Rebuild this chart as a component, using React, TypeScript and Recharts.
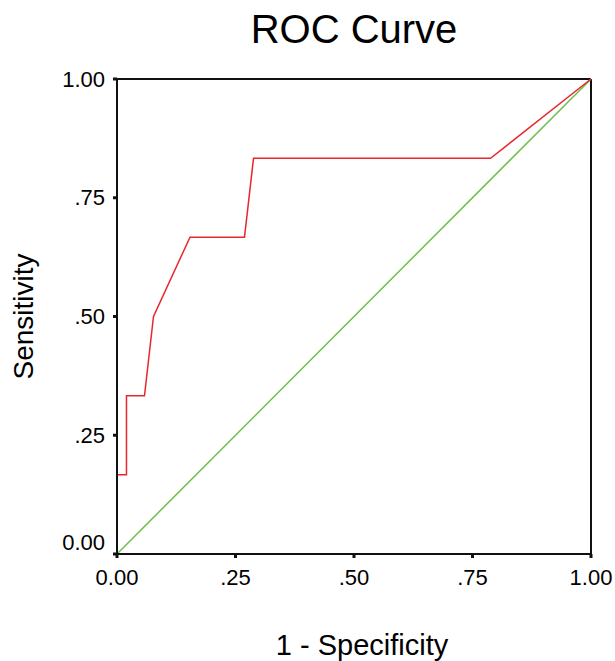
import React from 'react';
import { LineChart, Line, XAxis, YAxis, Label, ReferenceLine } from 'recharts';

// ROC points (1 - specificity, sensitivity)
const fpr = [0, 0, 0.02, 0.02, 0.058, 0.077, 0.154, 0.269, 0.288, 0.788, 1];
const tpr = [0, 0.167, 0.167, 0.333, 0.333, 0.5, 0.667, 0.667, 0.833, 0.833, 1];

const refX = [0, 1];
const refY = [0, 1];

const tickValues = [0, 0.25, 0.5, 0.75, 1];
const xTickLabels = ['0.00', '.25', '.50', '.75', '1.00'];
const yTickLabels = ['0.00', '.25', '.50', '.75', '1.00'];

const rocData = fpr.map((x, i) => ({ fpr: x, tpr: tpr[i] }));
const refData = refX.map((x, i) => ({ fpr: x, ref: refY[i] }));

const FONT = '"Liberation Sans", Arial, Helvetica, sans-serif';
const AXIS = '#111';

const XTick = (props: any) => {
  const { x, y, payload } = props;
  const i = tickValues.indexOf(payload.value);
  return (
    <text x={x} y={y} dy={27} textAnchor="middle" fontSize={22} fontFamily={FONT} fill="#000">
      {xTickLabels[i]}
    </text>
  );
};

const YTick = (props: any) => {
  const { x, y, payload } = props;
  const i = tickValues.indexOf(payload.value);
  // bottom label is lifted so it does not collide with the x labels
  const lift = payload.value === 0 ? -12 : 0;
  return (
    <text x={x} y={y + lift} dy={7.5} textAnchor="end" fontSize={22} fontFamily={FONT} fill="#000">
      {yTickLabels[i]}
    </text>
  );
};

const XTitle = (props: any) => {
  const { viewBox } = props;
  return (
    <text
      x={viewBox.x + viewBox.width / 2 + 8}
      y={viewBox.y + 101}
      textAnchor="middle"
      fontSize={29}
      fontFamily={FONT}
      fill="#000"
    >
      1 - Specificity
    </text>
  );
};

const YTitle = (props: any) => {
  const { viewBox } = props;
  const cx = 33;
  const cy = viewBox.y + viewBox.height / 2;
  return (
    <text
      x={cx}
      y={cy}
      transform={`rotate(-90 ${cx} ${cy})`}
      textAnchor="middle"
      fontSize={28}
      fontFamily={FONT}
      fill="#000"
    >
      Sensitivity
    </text>
  );
};

export default function App() {
  return (
    <div style={{ position: 'absolute', top: 0, left: 0, width: 615, height: 661, background: '#fff' }}>
      <div
        style={{
          position: 'absolute',
          top: 0,
          left: 354,
          transform: 'translateX(-50%)',
          whiteSpace: 'nowrap',
          fontFamily: FONT,
          fontSize: 40,
          lineHeight: '58px',
          color: '#000',
        }}
      >
        ROC Curve
      </div>
      <LineChart width={615} height={661} data={rocData} margin={{ top: 79, right: 24, left: 0, bottom: 0 }}>
        <XAxis
          type="number"
          dataKey="fpr"
          domain={[0, 1]}
          ticks={tickValues}
          tick={<XTick />}
          tickSize={4}
          tickMargin={0}
          tickLine={{ stroke: AXIS, strokeWidth: 3 }}
          axisLine={{ stroke: AXIS, strokeWidth: 2 }}
          height={107}
          interval={0}
        >
          <Label content={<XTitle />} />
        </XAxis>
        <YAxis
          type="number"
          domain={[0, 1]}
          ticks={tickValues}
          tick={<YTick />}
          tickSize={4}
          tickMargin={8}
          tickLine={{ stroke: AXIS, strokeWidth: 3 }}
          axisLine={{ stroke: AXIS, strokeWidth: 2 }}
          width={117}
          interval={0}
        >
          <Label content={<YTitle />} />
        </YAxis>
        <ReferenceLine y={1} stroke={AXIS} strokeWidth={2} ifOverflow="visible" />
        <ReferenceLine x={1} stroke={AXIS} strokeWidth={2} ifOverflow="visible" />
        <Line
          data={refData}
          dataKey="ref"
          type="linear"
          stroke="#6cbf48"
          strokeWidth={1.5}
          dot={false}
          isAnimationActive={false}
        />
        <Line
          dataKey="tpr"
          type="linear"
          stroke="#e8272d"
          strokeWidth={1.5}
          dot={false}
          isAnimationActive={false}
        />
      </LineChart>
    </div>
  );
}
